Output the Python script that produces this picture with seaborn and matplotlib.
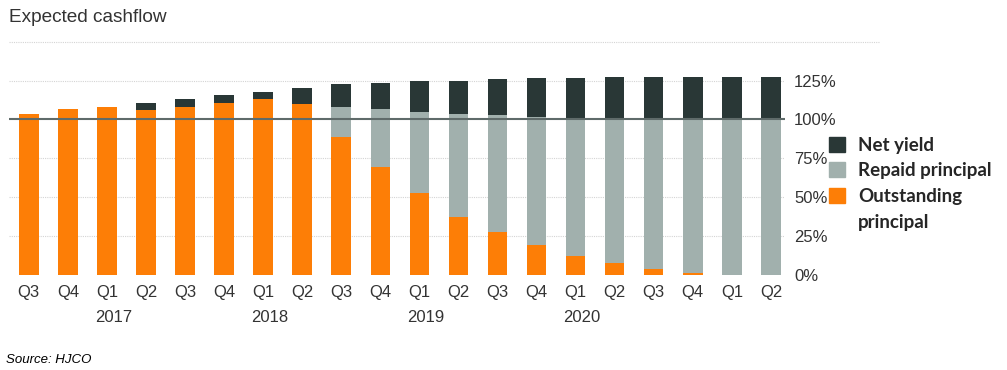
import numpy as np
import pandas as pd
import matplotlib
matplotlib.use("Agg")
import matplotlib.pyplot as plt
import seaborn as sns
from matplotlib.patches import Patch
from matplotlib.transforms import blended_transform_factory


# --- Data (% of invested principal) ---
quarters = ["Q3", "Q4", "Q1", "Q2", "Q3", "Q4", "Q1", "Q2", "Q3", "Q4",
            "Q1", "Q2", "Q3", "Q4", "Q1", "Q2", "Q3", "Q4", "Q1", "Q2"]
years = ["2017", "2018", "2019", "2020"]

outstanding = [103.5, 106.8, 108.0, 105.9, 108.2, 110.6, 113.1, 109.9, 88.9, 69.6,
               52.6, 37.4, 27.7, 19.1, 12.4, 7.7, 3.7, 1.3, 0.0, 0.0]
repaid = [0.0, 0.0, 0.0, 0.0, 0.0, 0.0, 0.0, 0.0, 19.1, 36.9,
          52.2, 66.1, 74.9, 82.4, 88.5, 93.0, 96.6, 98.6, 100.0, 100.0]
net_yield = [0.0, 0.0, 0.0, 4.7, 5.0, 5.0, 4.6, 10.2, 14.7, 16.8,
             20.2, 21.5, 23.2, 25.2, 25.8, 26.9, 27.3, 27.7, 27.4, 27.4]

y_ticks = [0, 25, 50, 75, 100, 125]


# --- Data processing ---
df = pd.DataFrame({
    "period": [f"{i}-{q}" for i, q in enumerate(quarters)],
    "outstanding": outstanding,
    "repaid": repaid,
    "net_yield": net_yield,
})
df["principal_top"] = df["outstanding"] + df["repaid"]
df["total_top"] = df["principal_top"] + df["net_yield"]

c_yield = "#293736"
c_repaid = "#a1b0ad"
c_out = "#fd7e06"


# --- Plot styling ---
sns.set_theme(style="white")
plt.rcParams["font.family"] = ["Liberation Sans", "DejaVu Sans"]

fig = plt.figure(figsize=(10.07, 3.70), dpi=100)
ax = fig.add_axes([0.0092, 0.2568, 0.7703, 0.6305])


# --- Plot data (overlapping bars, tallest first) ---
for col, color in [("total_top", c_yield), ("principal_top", c_repaid), ("outstanding", c_out)]:
    sns.barplot(data=df, x="period", y=col, color=color, saturation=1,
                width=0.5, linewidth=0, ax=ax, zorder=3)

ax.axhline(100, color="#5f6b6a", linewidth=1.5, zorder=5)


# --- Axes configuration ---
ax.set_xlim(-0.5, 19.36)
ax.set_ylim(0, 150)
ax.set_xlabel("")
ax.set_ylabel("")

for spine in ax.spines.values():
    spine.set_visible(False)

for v in [25, 50, 75, 125]:
    ax.axhline(v, color="#d4d4d4", linewidth=0.8, linestyle=(0, (1, 1)), zorder=1)
ax.axhline(150, xmax=1.1225, color="#d4d4d4", linewidth=0.8,
           linestyle=(0, (1, 1)), zorder=1, clip_on=False)

ax.set_xticks(range(len(quarters)))
ax.set_xticklabels(quarters)
ax.yaxis.tick_right()
ax.set_yticks(y_ticks)
ax.set_yticklabels([f"{t}%" for t in y_ticks])
ax.tick_params(axis="both", length=0, labelsize=12, colors="#333333")
ax.tick_params(axis="x", pad=7)
ax.tick_params(axis="y", pad=6.5)

trans = blended_transform_factory(ax.transData, ax.transAxes)
q1_idx = [i for i, q in enumerate(quarters) if q == "Q1"]
for i, yr in zip(q1_idx, years):
    ax.text(i + 0.17, -0.183, yr, transform=trans, ha="center", va="center",
            fontsize=12, color="#333333")


# --- Titles / notes ---
fig.text(0.0092, 0.952, "Expected cashflow", fontsize=13.7, color="#333333",
         ha="left", va="center")
fig.text(0.006, 0.027, "Source: HJCO", fontsize=9.5, style="italic",
         color="black", ha="left", va="center")


# --- Legend ---
# the second line of the last label is an entry with an empty swatch,
# so the orange square lines up with "Outstanding" like in the original
handles = [Patch(color=c_yield), Patch(color=c_repaid), Patch(color=c_out),
           Patch(color="none")]
labels = ["Net yield", "Repaid principal", "Outstanding", "principal"]
fig.legend(handles, labels, loc="upper left", bbox_to_anchor=(0.823, 0.631),
           frameon=False, handlelength=0.85, handleheight=0.85, handletextpad=0.7,
           labelspacing=0.47, borderaxespad=0, borderpad=0,
           prop={"family": "Lato", "weight": "bold", "size": 13.5})


# --- Render ---
fig.savefig("out.png", dpi=100)
